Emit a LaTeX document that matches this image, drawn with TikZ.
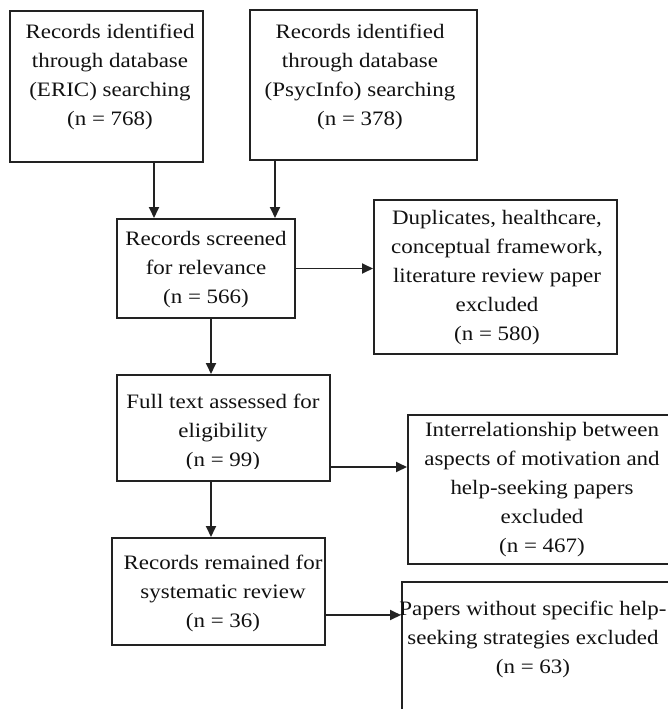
\documentclass[tikz,border=0pt]{standalone}
\usepackage{fontspec}
\setmainfont{Liberation Serif}[FakeStretch=1.12]
\usetikzlibrary{arrows.meta}
\definecolor{linec}{HTML}{222222}
\definecolor{textc}{HTML}{111111}
\begin{document}
\begin{tikzpicture}[x=1pt,y=-1pt,
  box/.style={draw=linec, line width=2pt, rectangle, inner sep=0pt, anchor=north west},
  txt/.style={align=center, inner sep=0pt, font=\fontsize{20.5}{29}\selectfont, text=textc},
  arr/.style={draw=linec, line width=1.8pt, -{Triangle[length=11pt,width=10pt]}}]
\useasboundingbox (0,0) rectangle (668,709);
\clip (0,0) rectangle (668,709);
% boxes
\node[box, minimum width=193pt, minimum height=151pt] (A) at (9,10) {};
\node[box, minimum width=227pt, minimum height=150pt] (B) at (249,9) {};
\node[box, minimum width=178pt, minimum height=99pt] (C) at (116,218) {};
\node[box, minimum width=243pt, minimum height=154pt] (D) at (373,199) {};
\node[box, minimum width=213pt, minimum height=106pt] (E) at (116,374) {};
\node[box, minimum width=270pt, minimum height=149pt] (F) at (407,414) {};
\node[box, minimum width=213pt, minimum height=107pt] (G) at (111,537) {};
\node[box, minimum width=279pt, minimum height=180pt] (H) at (401,581) {};
% texts
\node[txt] (At) at (110,77) {Records identified\\through database\\(ERIC) searching\\(n = 768)};
\node[txt] (Bt) at (360,77) {Records identified\\through database\\(PsycInfo) searching\\(n = 378)};
\node[txt] (Ct) at (206,269.5) {Records screened\\for relevance\\(n = 566)};
\node[txt] (Dt) at (497,278) {Duplicates, healthcare,\\conceptual framework,\\literature review paper\\excluded\\(n = 580)};
\begin{scope}
\clip (E.north west) rectangle ([yshift=14pt]E.south east);
\node[txt] (Et) at (223,432.5) {Full text assessed for\\eligibility\\(n = 99)};
\end{scope}
\node[txt] (Ft) at (542,490) {Interrelationship between\\aspects of motivation and\\help-seeking papers\\excluded\\(n = 467)};
\node[txt] (Gt) at (223,593.5) {Records remained for\\systematic review\\(n = 36)};
\node[txt] (Ht) at (533,639.5) {Papers without specific help-\\seeking strategies excluded\\(n = 63)};
% connectors
\draw[arr] ([xshift=47.5pt]A.south) -- ([xshift=47.5pt]A.south |- C.north);
\draw[arr] ([xshift=-88.5pt]B.south) -- ([xshift=-88.5pt]B.south |- C.north);
\draw[arr] (C.east) -- (C.east -| D.west);
\draw[arr] ([xshift=5pt]C.south) -- ([xshift=5pt]C.south |- E.north);
\draw[arr] ([yshift=15pt]E.south east) -- ([yshift=15pt]E.south east -| F.west);
\draw[arr] ([xshift=-12.5pt]E.south) -- ([xshift=-12.5pt]E.south |- G.north);
\draw[arr] ([yshift=31pt]G.south east) -- ([yshift=31pt]G.south east -| H.west);
\end{tikzpicture}
\end{document}
